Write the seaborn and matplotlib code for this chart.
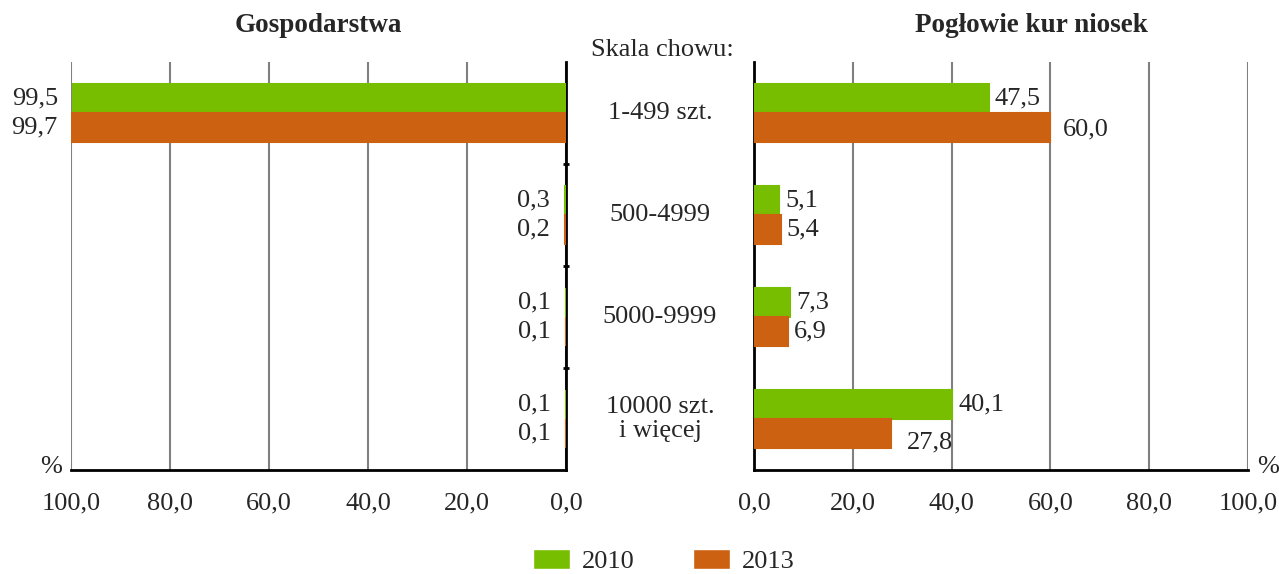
import numpy as np
import pandas as pd
import seaborn as sns
import matplotlib.pyplot as plt
import matplotlib.transforms as mtransforms
from matplotlib.patches import Patch

# data
skala = ["1-499 szt.", "500-4999", "5000-9999", "10000 szt.\ni więcej"]
lata = ["2010", "2013"]
gosp_2010 = [99.5, 0.3, 0.1, 0.1]
gosp_2013 = [99.7, 0.2, 0.1, 0.1]
kury_2010 = [47.5, 5.1, 7.3, 40.1]
kury_2013 = [60.0, 5.4, 6.9, 27.8]
xticks = [0, 20, 40, 60, 80, 100]

kolory = {"2010": "#78BE00", "2013": "#CC6112"}

df_gosp = pd.DataFrame({
    "skala": skala * 2,
    "rok": ["2010"] * 4 + ["2013"] * 4,
    "val": gosp_2010 + gosp_2013,
})
df_kury = pd.DataFrame({
    "skala": skala * 2,
    "rok": ["2010"] * 4 + ["2013"] * 4,
    "val": kury_2010 + kury_2013,
})

sns.set_style("white")
plt.rcParams["font.family"] = ["Liberation Serif", "DejaVu Serif"]
plt.rcParams["font.size"] = 19

fig = plt.figure(figsize=(12.79, 5.74), dpi=100)
ax1 = fig.add_axes([71 / 1279, 1 - 470 / 574, 495 / 1279, 408 / 574])
ax2 = fig.add_axes([754 / 1279, 1 - 470 / 574, 494 / 1279, 408 / 574])

def fmt(v):
    return f"{v:.1f}".replace(".", ",")

for ax, df in [(ax1, df_gosp), (ax2, df_kury)]:
    sns.barplot(data=df, y="skala", x="val", hue="rok", order=skala,
                hue_order=lata, palette=kolory, orient="h", width=0.57,
                saturation=1, linewidth=0, ax=ax, legend=False, zorder=3)
    for p in ax.patches:
        p.set_edgecolor(p.get_facecolor())
        p.set_linewidth(1.5)
    ax.set_xlim(0, 100)
    ax.set_ylim(3.5, -0.5)
    ax.set_xticks(xticks)
    ax.set_xticklabels([fmt(t) for t in xticks])
    ax.set_xticks([0, 100], minor=True)
    ax.tick_params(axis="x", which="major", length=0, pad=16, labelsize=19)
    ax.tick_params(axis="x", which="minor", length=6, width=2, color="black",
                   direction="inout")
    ax.set_yticks([])
    ax.set_yticks([0.5, 1.5, 2.5], minor=True)
    ax.set_xlabel("")
    ax.set_ylabel("")
    ax.grid(axis="x", color="#808080", linewidth=1.5, zorder=0)
    ax.set_axisbelow(True)
    for s in ["top", "left", "right"]:
        ax.spines[s].set_visible(False)
    ax.spines["bottom"].set_color("black")
    ax.spines["bottom"].set_linewidth(2)

# left panel is mirrored
ax1.invert_xaxis()
ax1.spines["right"].set_visible(True)
ax1.spines["right"].set_color("black")
ax1.spines["right"].set_linewidth(2)
ax1.spines["right"].set_zorder(2)
ax1.yaxis.set_ticks_position("right")
ax1.tick_params(axis="y", which="minor", length=5, width=2, direction="inout",
                color="black")
ax2.spines["left"].set_visible(True)
ax2.spines["left"].set_color("black")
ax2.spines["left"].set_linewidth(2)
ax2.tick_params(axis="y", which="minor", length=5, width=2, direction="inout",
                color="black")

# value labels
off = 0.57 / 4
przes_2013 = [(12, -2), (6, 0), (6, 0), (16, -9)]
for i in range(4):
    ax1.annotate(fmt(gosp_2010[i]), (gosp_2010[i], i - off),
                 xytext=(-15, 0), textcoords="offset pixels",
                 ha="right", va="center", fontsize=19)
    ax1.annotate(fmt(gosp_2013[i]), (gosp_2013[i], i + off),
                 xytext=(-15, 0), textcoords="offset pixels",
                 ha="right", va="center", fontsize=19)
    ax2.annotate(fmt(kury_2010[i]), (kury_2010[i], i - off),
                 xytext=(6, 0), textcoords="offset pixels",
                 ha="left", va="center", fontsize=19)
    ax2.annotate(fmt(kury_2013[i]), (kury_2013[i], i + off),
                 xytext=przes_2013[i], textcoords="offset pixels",
                 ha="left", va="center", fontsize=19)

# center category labels
tr = mtransforms.blended_transform_factory(fig.transFigure, ax2.transData)
for i, s in enumerate(skala):
    fig.text(660 / 1279, i, s, transform=tr, ha="center", va="center",
             fontsize=19, linespacing=1.1)

fig.text(662 / 1279, 1 - 50 / 574, "Skala chowu:", ha="center", va="center",
         fontsize=19)
fig.text(318 / 1279, 1 - 25 / 574, "Gospodarstwa", ha="center", va="center",
         fontsize=19.5, fontweight="bold")
fig.text(1031 / 1279, 1 - 25 / 574, "Pogłowie kur niosek", ha="center",
         va="center", fontsize=19.5, fontweight="bold")
fig.text(51 / 1279, 1 - 467 / 574, "%", ha="center", va="center", fontsize=19)
fig.text(1268 / 1279, 1 - 467 / 574, "%", ha="center", va="center",
         fontsize=19)

handles = [Patch(facecolor=kolory[r], label=r) for r in lata]
fig.legend(handles=handles, loc="center", bbox_to_anchor=(664 / 1279, 1 - 561 / 574),
           ncol=2, frameon=False, fontsize=19, handlelength=1.4,
           handleheight=0.8, columnspacing=2.2, handletextpad=0.45)

fig.savefig("out.png", dpi=100)
